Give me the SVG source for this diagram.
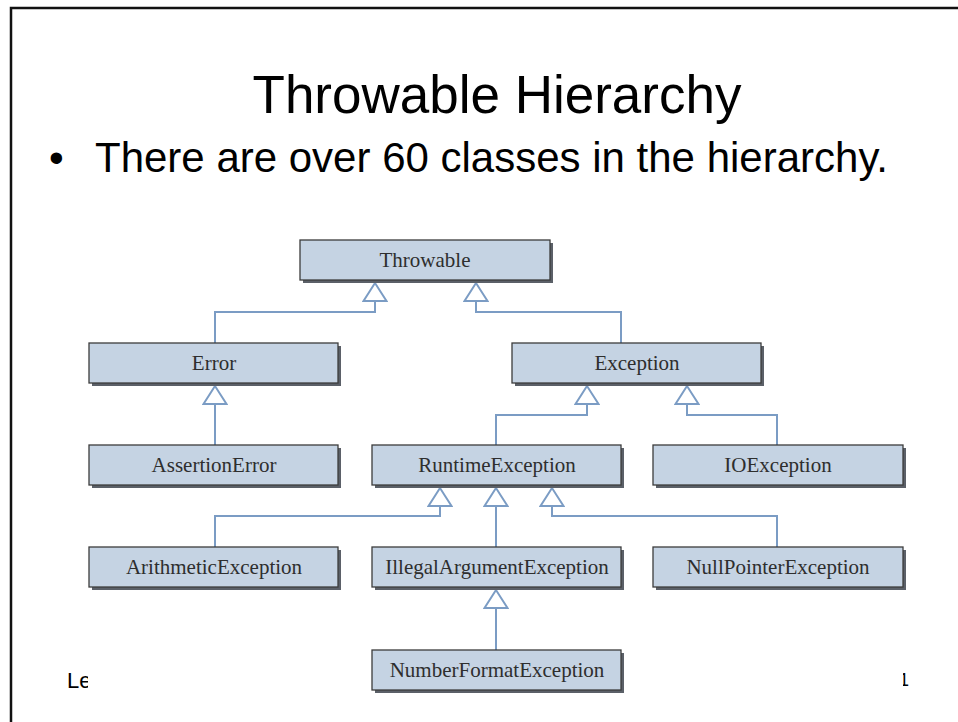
<svg xmlns="http://www.w3.org/2000/svg" width="958" height="722" viewBox="0 0 958 722">
  <style>
    .slide { font-family: "Liberation Sans", Arial, sans-serif; fill: #000; }
    .box { fill: #c5d3e3; stroke: #3c3c3c; stroke-width: 1.3; }
    .shadow { fill: #5b6068; }
    .label { font-family: "Liberation Serif", "Times New Roman", serif; font-size: 21px; fill: #2e2e2e; text-anchor: middle; }
    .link { fill: none; stroke: #7b9cc4; stroke-width: 2; marker-end: url(#inherit); }
  </style>
  <defs>
    <!-- hollow triangle: UML generalisation head -->
    <marker id="inherit" viewBox="-20 -13 22 26" refX="0" refY="0" markerWidth="22" markerHeight="26" markerUnits="userSpaceOnUse" orient="auto">
      <path d="M0,0 L-18,-11.5 L-18,11.5 Z" fill="#fff" stroke="#7b9cc4" stroke-width="2" stroke-linejoin="miter"/>
    </marker>
    <clipPath id="footLeft"><rect x="0" y="640" width="88" height="82"/></clipPath>
    <clipPath id="footRight"><rect x="903" y="640" width="55" height="82"/></clipPath>
  </defs>

  <rect width="958" height="722" fill="#fff"/>
  <!-- slide frame -->
  <path d="M11,722 V8 H958" fill="none" stroke="#111" stroke-width="2.5"/>

  <text class="slide" x="497" y="113" font-size="53" text-anchor="middle">Throwable Hierarchy</text>
  <text class="slide" x="49" y="172" font-size="42">•</text>
  <text class="slide" x="95" y="172" font-size="42">There are over 60 classes in the hierarchy.</text>

  <text class="slide" x="67" y="688" font-size="22" clip-path="url(#footLeft)">Le</text>
  <text class="slide" x="899" y="686" font-size="18" clip-path="url(#footRight)">1</text>

  <g id="connectors">
    <path class="link" d="M215,345 V312 H375 V283"/>
    <path class="link" d="M621,345 V312 H476 V283"/>
    <path class="link" d="M215,445 V386"/>
    <path class="link" d="M496,445 V415 H587 V386"/>
    <path class="link" d="M777,445 V415 H687 V386"/>
    <path class="link" d="M215,547 V516 H440 V488"/>
    <path class="link" d="M496,547 V488"/>
    <path class="link" d="M777,547 V516 H552 V488"/>
    <path class="link" d="M496,650 V590"/>
  </g>

  <g id="throwable">
    <rect class="shadow" x="303" y="243" width="250" height="40"/>
    <rect class="box" x="300" y="240" width="250" height="40"/>
    <text class="label" x="425" y="267">Throwable</text>
  </g>
  <g id="error">
    <rect class="shadow" x="92" y="346" width="249" height="40"/>
    <rect class="box" x="89" y="343" width="249" height="40"/>
    <text class="label" x="214" y="370">Error</text>
  </g>
  <g id="exception">
    <rect class="shadow" x="515" y="346" width="249" height="40"/>
    <rect class="box" x="512" y="343" width="249" height="40"/>
    <text class="label" x="637" y="370">Exception</text>
  </g>
  <g id="assertion-error">
    <rect class="shadow" x="92" y="448" width="249" height="40"/>
    <rect class="box" x="89" y="445" width="249" height="40"/>
    <text class="label" x="214" y="472">AssertionError</text>
  </g>
  <g id="runtime-exception">
    <rect class="shadow" x="375" y="448" width="249" height="40"/>
    <rect class="box" x="372" y="445" width="249" height="40"/>
    <text class="label" x="497" y="472">RuntimeException</text>
  </g>
  <g id="io-exception">
    <rect class="shadow" x="656" y="448" width="250" height="40"/>
    <rect class="box" x="653" y="445" width="250" height="40"/>
    <text class="label" x="778" y="472">IOException</text>
  </g>
  <g id="arithmetic-exception">
    <rect class="shadow" x="92" y="550" width="249" height="40"/>
    <rect class="box" x="89" y="547" width="249" height="40"/>
    <text class="label" x="214" y="574">ArithmeticException</text>
  </g>
  <g id="illegal-argument-exception">
    <rect class="shadow" x="375" y="550" width="249" height="40"/>
    <rect class="box" x="372" y="547" width="249" height="40"/>
    <text class="label" x="497" y="574">IllegalArgumentException</text>
  </g>
  <g id="null-pointer-exception">
    <rect class="shadow" x="656" y="550" width="250" height="40"/>
    <rect class="box" x="653" y="547" width="250" height="40"/>
    <text class="label" x="778" y="574">NullPointerException</text>
  </g>
  <g id="number-format-exception">
    <rect class="shadow" x="375" y="653" width="249" height="40"/>
    <rect class="box" x="372" y="650" width="249" height="40"/>
    <text class="label" x="497" y="677">NumberFormatException</text>
  </g>
</svg>
